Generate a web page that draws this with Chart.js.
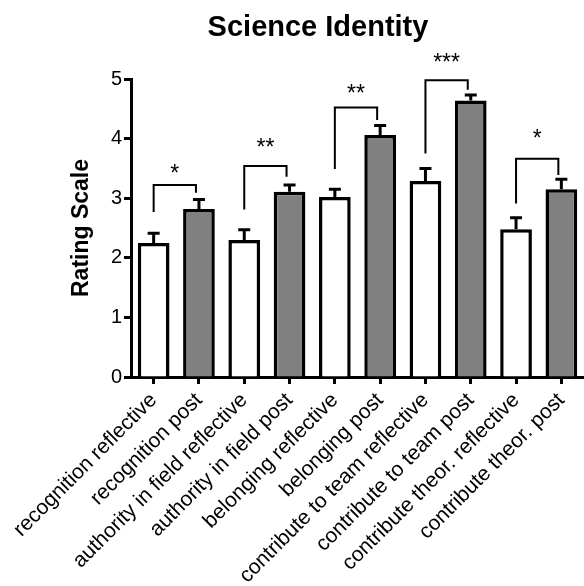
<!DOCTYPE html>
<html><head><meta charset="utf-8">
<script src="https://cdn.jsdelivr.net/npm/chart.js@4.4.1/dist/chart.umd.min.js"></script>
<style>html,body{margin:0;padding:0;background:#fff;} #wrap{width:584px;height:586px;position:relative;}</style>
</head><body><div id="wrap"><canvas id="c"></canvas></div>
<script>
const categories = ['recognition reflective','recognition post','authority in field reflective','authority in field post','belonging reflective','belonging post','contribute to team reflective','contribute to team post','contribute theor. reflective','contribute theor. post'];
const means = [2.25, 2.82, 2.30, 3.11, 3.02, 4.06, 3.29, 4.64, 2.48, 3.15];
const errors = [0.16, 0.16, 0.17, 0.11, 0.13, 0.16, 0.21, 0.09, 0.19, 0.17];
const barColors = ['#ffffff','#808080','#ffffff','#808080','#ffffff','#808080','#ffffff','#808080','#ffffff','#808080'];
const yTicks = [0,1,2,3,4,5];
const pairLeft = [0,2,4,6,8];
const pairRight = [1,3,5,7,9];
const bracketTop = [3.22, 3.54, 4.52, 4.98, 3.66];
const bracketLeftEnd = [2.77, 2.81, 3.49, 3.75, 2.91];
const bracketRightEnd = [3.09, 3.36, 4.31, 4.82, 3.39];
const starLevel = [3.51, 3.95, 4.85, 5.37, 4.10];
const starLabels = ['*','**','**','***','*'];
const titleText = 'Science Identity';
const yTitle = 'Rating Scale';

const FF = '"Liberation Sans", Arial, Helvetica, sans-serif';

const overlay = {
  id: 'overlay',
  afterDatasetsDraw(chart) {
    const ctx = chart.ctx, x = chart.scales.x, y = chart.scales.y;
    ctx.save();
    ctx.strokeStyle = '#000';
    ctx.lineWidth = 3;
    means.forEach((m, i) => {
      const cx = x.getPixelForValue(i);
      const y0 = y.getPixelForValue(m);
      const y1 = y.getPixelForValue(m + errors[i]);
      ctx.beginPath();
      ctx.moveTo(cx, y0); ctx.lineTo(cx, y1);
      ctx.moveTo(cx - 6, y1); ctx.lineTo(cx + 6, y1);
      ctx.stroke();
    });
    ctx.lineWidth = 2;
    pairLeft.forEach((li, k) => {
      const xl = x.getPixelForValue(li);
      const xr = x.getPixelForValue(pairRight[k]) - 3;
      const yt = y.getPixelForValue(bracketTop[k]);
      ctx.beginPath();
      ctx.moveTo(xl, y.getPixelForValue(bracketLeftEnd[k]));
      ctx.lineTo(xl, yt);
      ctx.lineTo(xr, yt);
      ctx.lineTo(xr, y.getPixelForValue(bracketRightEnd[k]));
      ctx.stroke();
      ctx.fillStyle = '#000';
      ctx.font = '23px ' + FF;
      ctx.textAlign = 'center';
      ctx.textBaseline = 'alphabetic';
      ctx.fillText(starLabels[k], (xl + xr) / 2, y.getPixelForValue(starLevel[k]) + 13);
    });
    ctx.restore();
  },
  afterDraw(chart) {
    const ctx = chart.ctx;
    ctx.save();
    ctx.fillStyle = '#000';
    ctx.font = 'bold 29px ' + FF;
    ctx.textAlign = 'center';
    ctx.textBaseline = 'alphabetic';
    ctx.fillText(titleText, 318, 36);
    ctx.restore();
  }
};

new Chart(document.getElementById('c'), {
  type: 'bar',
  data: {
    labels: categories,
    datasets: [{
      data: means,
      backgroundColor: barColors,
      borderColor: '#000',
      borderWidth: 3.5,
      barPercentage: 0.7,
      categoryPercentage: 1.0
    }]
  },
  options: {
    responsive: true,
    maintainAspectRatio: false,
    animation: false,
    devicePixelRatio: 1,
    layout: { padding: { top: 79, left: 0, right: 0, bottom: 0 } },
    plugins: { legend: { display: false }, tooltip: { enabled: false }, title: { display: false } },
    scales: {
      x: {
        offset: true,
        grid: { display: true, drawOnChartArea: false, offset: false, tickLength: 7, tickWidth: 3, color: '#000', tickColor: '#000' },
        border: { display: true, color: '#000', width: 3 },
        ticks: { autoSkip: false, maxRotation: 45, minRotation: 45, color: '#000', font: { family: FF, size: 21 }, padding: 4 },
        afterFit(s) { s.height = 209; s.paddingLeft = 0; s.paddingRight = 0; }
      },
      y: {
        min: 0, max: 5,
        afterBuildTicks(s) { s.ticks = yTicks.map(v => ({ value: v })); },
        ticks: { color: '#000', font: { family: FF, size: 20 }, padding: 2 },
        grid: { drawOnChartArea: false, tickLength: 7, tickWidth: 3, color: '#000', tickColor: '#000' },
        border: { display: true, color: '#000', width: 3 },
        title: { display: true, text: yTitle, color: '#000', font: { family: FF, size: 23, weight: 'bold' }, padding: { top: 68, bottom: 0 } },
        afterFit(s) { s.width = 131; }
      }
    }
  },
  plugins: [overlay]
});
</script></body></html>
